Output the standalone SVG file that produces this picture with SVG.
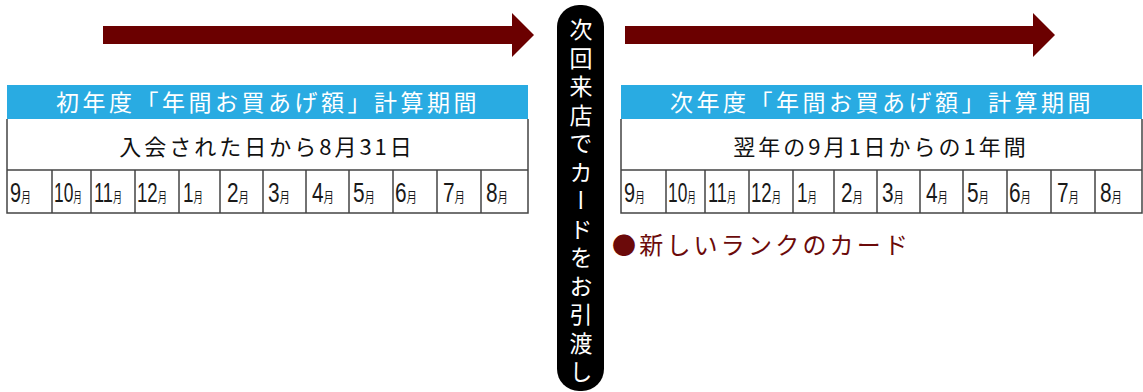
<svg xmlns="http://www.w3.org/2000/svg" width="1143" height="392" viewBox="0 0 1143 392">
<style>
.arrow{fill:#6b0000}
.hdr{fill:#29abe2}
.hdrt{fill:#fff;font-family:"Noto Sans CJK JP",sans-serif;font-size:23px;letter-spacing:3.5px;text-anchor:middle}
.rowt{fill:#111;font-family:"Noto Sans CJK JP",sans-serif;font-size:22px;letter-spacing:3px;text-anchor:middle}
.ln{stroke:#444;stroke-width:1.5;fill:none}
.num{fill:#1a1a1a;font-family:"Liberation Sans",sans-serif;font-size:28px}
.mo{font-family:"Noto Sans CJK JP",sans-serif;font-size:14px}
.vt{fill:#fff;font-family:"Noto Sans CJK JP",sans-serif;font-size:23px;letter-spacing:5.5px;writing-mode:vertical-rl}
.bul{fill:#6b0a0a;font-family:"Noto Sans CJK JP",sans-serif;font-size:24px;letter-spacing:3.2px}
</style>
<defs>
<path id="grid" class="ln" d="M7,119 V213 H528 V119 M7,170 H528 M52,170 V213 M91,170 V213 M135,170 V213 M179,170 V213 M220,170 V213 M263,170 V213 M306,170 V213 M349,170 V213 M393,170 V213 M437,170 V213 M481,170 V213"/>
</defs>
<rect width="1143" height="392" fill="#fff"/>
<g id="connectors">
<polygon class="arrow" points="103,26 512,26 512,13 534,35 512,57 512,44 103,44"/>
<polygon class="arrow" points="625,26 1033,26 1033,13 1055,35 1033,57 1033,44 625,44"/>
</g>
<g id="table-first">
<rect class="hdr" x="7" y="85" width="521" height="34"/>
<text class="hdrt" x="268" y="111">初年度「年間お買あげ額」計算期間</text>
<text class="rowt" x="267" y="155">入会された日から8月31日</text>
<use href="#grid"/>
<g id="months-first">
<text class="num" x="10" y="202" textLength="21" lengthAdjust="spacingAndGlyphs">9<tspan class="mo">月</tspan></text>
<text class="num" x="54" y="202" textLength="28" lengthAdjust="spacingAndGlyphs">10<tspan class="mo">月</tspan></text>
<text class="num" x="94" y="202" textLength="28" lengthAdjust="spacingAndGlyphs">11<tspan class="mo">月</tspan></text>
<text class="num" x="137" y="202" textLength="30" lengthAdjust="spacingAndGlyphs">12<tspan class="mo">月</tspan></text>
<text class="num" x="183" y="202" textLength="20" lengthAdjust="spacingAndGlyphs">1<tspan class="mo">月</tspan></text>
<text class="num" x="227" y="202" textLength="22" lengthAdjust="spacingAndGlyphs">2<tspan class="mo">月</tspan></text>
<text class="num" x="268" y="202" textLength="22" lengthAdjust="spacingAndGlyphs">3<tspan class="mo">月</tspan></text>
<text class="num" x="312" y="202" textLength="22" lengthAdjust="spacingAndGlyphs">4<tspan class="mo">月</tspan></text>
<text class="num" x="353" y="202" textLength="22" lengthAdjust="spacingAndGlyphs">5<tspan class="mo">月</tspan></text>
<text class="num" x="395" y="202" textLength="22" lengthAdjust="spacingAndGlyphs">6<tspan class="mo">月</tspan></text>
<text class="num" x="443" y="202" textLength="22" lengthAdjust="spacingAndGlyphs">7<tspan class="mo">月</tspan></text>
<text class="num" x="486" y="202" textLength="22" lengthAdjust="spacingAndGlyphs">8<tspan class="mo">月</tspan></text>
</g>
</g>
<g id="table-next">
<rect class="hdr" x="621" y="85" width="521" height="34"/>
<text class="hdrt" x="882" y="111">次年度「年間お買あげ額」計算期間</text>
<text class="rowt" x="881" y="155">翌年の9月1日からの1年間</text>
<use href="#grid" x="614"/>
<g id="months-next">
<text class="num" x="624" y="202" textLength="21" lengthAdjust="spacingAndGlyphs">9<tspan class="mo">月</tspan></text>
<text class="num" x="668" y="202" textLength="28" lengthAdjust="spacingAndGlyphs">10<tspan class="mo">月</tspan></text>
<text class="num" x="708" y="202" textLength="28" lengthAdjust="spacingAndGlyphs">11<tspan class="mo">月</tspan></text>
<text class="num" x="751" y="202" textLength="30" lengthAdjust="spacingAndGlyphs">12<tspan class="mo">月</tspan></text>
<text class="num" x="797" y="202" textLength="20" lengthAdjust="spacingAndGlyphs">1<tspan class="mo">月</tspan></text>
<text class="num" x="841" y="202" textLength="22" lengthAdjust="spacingAndGlyphs">2<tspan class="mo">月</tspan></text>
<text class="num" x="882" y="202" textLength="22" lengthAdjust="spacingAndGlyphs">3<tspan class="mo">月</tspan></text>
<text class="num" x="926" y="202" textLength="22" lengthAdjust="spacingAndGlyphs">4<tspan class="mo">月</tspan></text>
<text class="num" x="967" y="202" textLength="22" lengthAdjust="spacingAndGlyphs">5<tspan class="mo">月</tspan></text>
<text class="num" x="1009" y="202" textLength="22" lengthAdjust="spacingAndGlyphs">6<tspan class="mo">月</tspan></text>
<text class="num" x="1057" y="202" textLength="22" lengthAdjust="spacingAndGlyphs">7<tspan class="mo">月</tspan></text>
<text class="num" x="1100" y="202" textLength="22" lengthAdjust="spacingAndGlyphs">8<tspan class="mo">月</tspan></text>
</g>
</g>
<g id="handover">
<rect x="557" y="5" width="47" height="386" rx="22" fill="#000"/>
<text class="vt" x="581" y="18">次回来店でカードをお引渡し</text>
</g>
<g id="new-card">
<text class="bul" x="612" y="254">●新しいランクのカード</text>
</g>
</svg>
